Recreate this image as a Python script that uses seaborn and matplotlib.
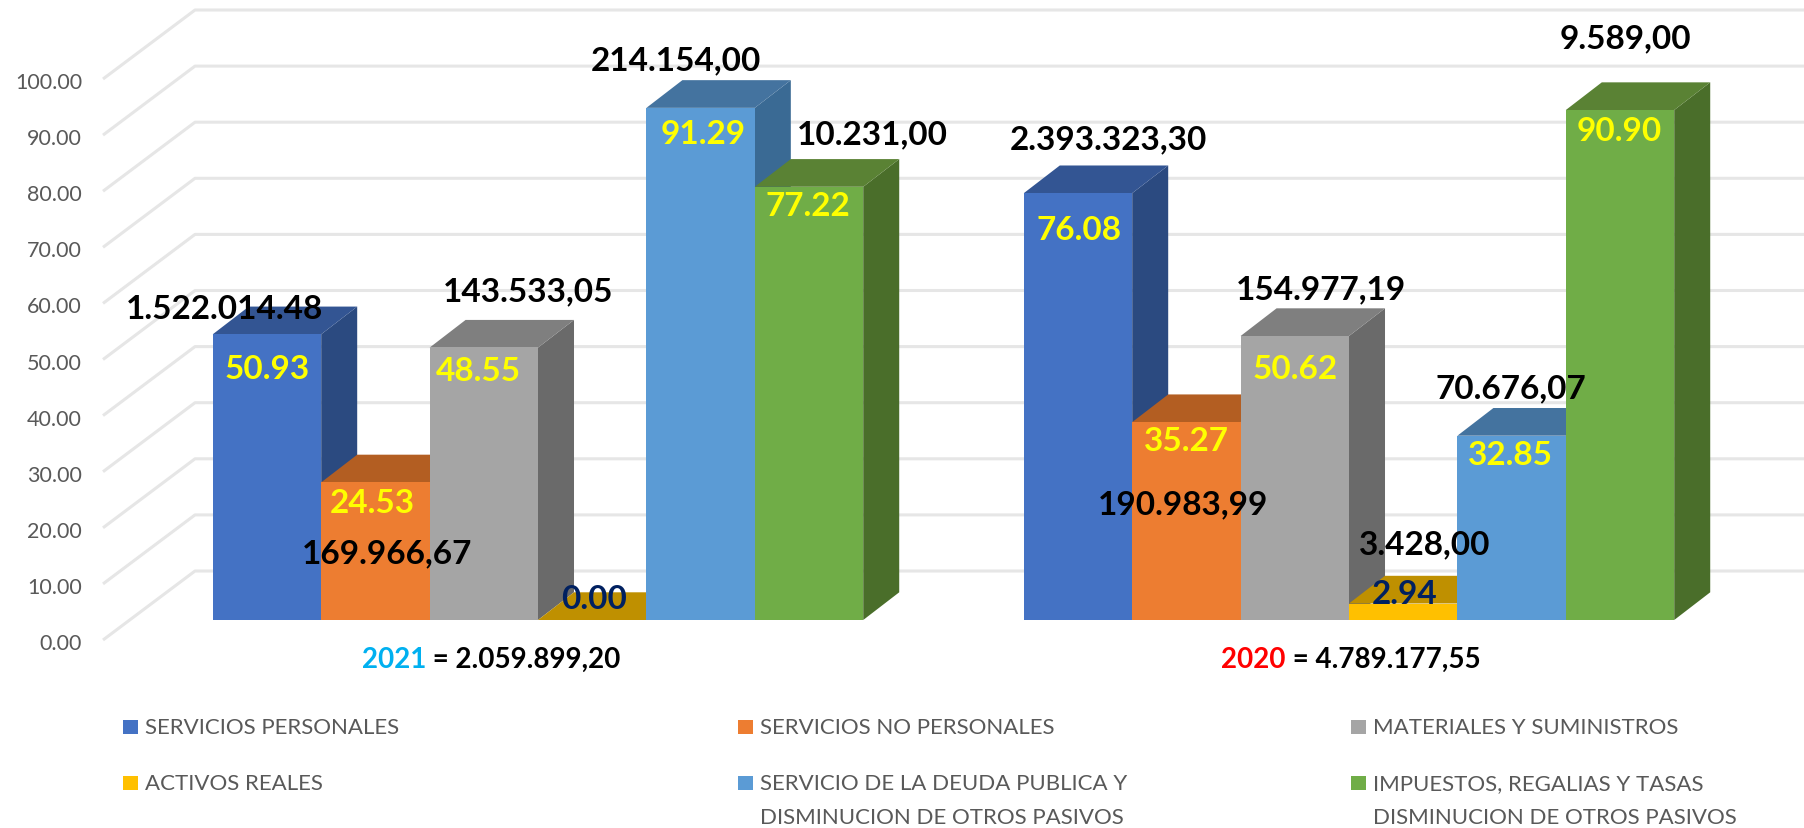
import pandas as pd
import seaborn as sns
import matplotlib.pyplot as plt
from matplotlib.patches import Polygon, Rectangle
from matplotlib.transforms import Affine2D, ScaledTranslation

# Data
categories = ["SERVICIOS PERSONALES", "SERVICIOS NO PERSONALES", "MATERIALES Y SUMINISTROS",
              "ACTIVOS REALES", "SERVICIO DE LA DEUDA PUBLICA Y\nDISMINUCION DE OTROS PASIVOS",
              "IMPUESTOS, REGALIAS Y TASAS\nDISMINUCION DE OTROS PASIVOS"]
years = ["2021", "2020"]
year_totals = ["2.059.899,20", "4.789.177,55"]
year_colors = ["#00B0F0", "#FF0000"]
pct_2021 = [50.93, 24.53, 48.55, 0.00, 91.29, 77.22]
pct_2020 = [76.08, 35.27, 50.62, 2.94, 32.85, 90.90]
amounts_2021 = ["1.522.014.48", "169.966,67", "143.533,05", "", "214.154,00", "10.231,00"]
amounts_2020 = ["2.393.323,30", "190.983,99", "154.977,19", "3.428,00", "70.676,07", "9.589,00"]
yticks = [0, 10, 20, 30, 40, 50, 60, 70, 80, 90, 100]

# Colours of the three visible faces of each bar
front_colors = ["#4472C4", "#ED7D31", "#A5A5A5", "#FFC000", "#5B9BD5", "#70AD47"]
side_colors = ["#2B4A80", "#A35620", "#6A6A6A", "#A67C00", "#3A6A94", "#4A6E2A"]
top_colors = ["#335593", "#B35E22", "#7F7F7F", "#BF9000", "#44739F", "#5A8234"]

# Layout, in pixels of the 1804x828 picture
W, H = 1804, 828
PX_PER_GROUP = 811
PX_PER_UNIT = 5.61
X0_PX, Y0_PX = 538, 620
DEPTH_X, DEPTH_Y = 36 / PX_PER_GROUP, 27.7 / PX_PER_UNIT

pct_pos_2021 = [(267, 369), (372, 503), (478, 371), (594, 599), (703, 134), (808, 206)]
pct_pos_2020 = [(1079, 230), (1186, 441), (1295, 369), (1405, 594), (1510, 455), (1619, 131)]
amount_pos_2021 = [(224, 309), (387, 554), (528, 292), None, (676, 61), (872, 135)]
amount_pos_2020 = [(1108, 140), (1183, 505), (1321, 290), (1425, 545), (1511, 389), (1625, 39)]
total_pos = [(362, 660), (1221, 660)]
legend_pos = [(123, 728), (738, 728), (1351, 728), (123, 784), (738, 784), (1351, 784)]

sns.set_theme(style="white")
plt.rcParams["font.family"] = ["Lato", "DejaVu Sans"]

df = pd.DataFrame({
    "year": [y for y in years for _ in categories],
    "cat": categories * 2,
    "pct": pct_2021 + pct_2020,
})

fig = plt.figure(figsize=((W + 0.01) / 100, (H + 0.01) / 100), dpi=100)
ax = fig.add_axes([0, 0, 1, 1])
sns.barplot(data=df, x="year", y="pct", hue="cat", order=years, hue_order=categories,
            palette=front_colors, width=0.802, gap=0, saturation=1, legend=False,
            errorbar=None, ax=ax)

ax.set_xlim(-X0_PX / PX_PER_GROUP, (W - X0_PX) / PX_PER_GROUP)
ax.set_ylim((Y0_PX - H) / PX_PER_UNIT, Y0_PX / PX_PER_UNIT)
ax.set_xlabel("")
ax.set_ylabel("")
ax.set_xticks([])
sns.despine(ax=ax, left=True, bottom=True)

# pixel coordinates for the free standing texts
px = Affine2D().scale(1 / W, -1 / H).translate(0, 1) + fig.transFigure

# Back wall grid and the left side diagonals
x_back = (195 - X0_PX) / PX_PER_GROUP
x_front = (103 - X0_PX) / PX_PER_GROUP
y_back0 = (Y0_PX - 571) / PX_PER_UNIT
y_front0 = (Y0_PX - 640) / PX_PER_UNIT
for t in yticks:
    ax.plot([x_front, x_back, ax.get_xlim()[1]], [y_front0 + t, y_back0 + t, y_back0 + t],
            color="#E6E6E6", lw=2.2, zorder=1, solid_capstyle="butt")

# y tick labels sit at the front edge of the side wall
ax.set_yticks(yticks)
ax.set_yticklabels([f"{t:.2f}" for t in yticks])
ax.tick_params(axis="y", length=0, direction="in", pad=-59, labelsize=15.5, labelcolor="#595959")
shift = ScaledTranslation(0, -22 / 100, fig.dpi_scale_trans)
for lab in ax.get_yticklabels():
    lab.set_horizontalalignment("right")
    lab.set_transform(lab.get_transform() + shift)

# Side and top faces built from the bars seaborn drew
for i, cont in enumerate(ax.containers):
    for bar in cont:
        x = bar.get_x()
        w = bar.get_width()
        h = bar.get_height()
        bar.set_linewidth(0)
        bar.set_zorder(5 + 3 * i)
        side = [(x + w, 0), (x + w + DEPTH_X, DEPTH_Y), (x + w + DEPTH_X, h + DEPTH_Y), (x + w, h)]
        top = [(x, h), (x + DEPTH_X, h + DEPTH_Y), (x + w + DEPTH_X, h + DEPTH_Y), (x + w, h)]
        ax.add_patch(Polygon(side, closed=True, fc=side_colors[i], lw=0, zorder=3 + 3 * i))
        ax.add_patch(Polygon(top, closed=True, fc=top_colors[i], lw=0, zorder=4 + 3 * i))

# Percentage labels
for vals, pos in [(pct_2021, pct_pos_2021), (pct_2020, pct_pos_2020)]:
    for i, (v, p) in enumerate(zip(vals, pos)):
        color = "#002060" if i == 3 else "#FFFF00"
        ax.text(p[0], p[1], f"{v:.2f}", transform=px, ha="center", va="center", color=color,
                fontsize=24, fontweight="bold", zorder=40)

# Amount labels
for vals, pos in [(amounts_2021, amount_pos_2021), (amounts_2020, amount_pos_2020)]:
    for a, p in zip(vals, pos):
        if p is not None:
            ax.text(p[0], p[1], a, transform=px, ha="center", va="center", color="black",
                    fontsize=24, fontweight="bold", zorder=40)

# Group captions, year in colour
for y, total, color, p in zip(years, year_totals, year_colors, total_pos):
    t = ax.text(p[0], p[1], y, transform=px, ha="left", va="center", color=color,
                fontsize=20, fontweight="bold", zorder=40)
    ax.annotate(f" = {total}", xy=(1, 0.5), xycoords=t, ha="left", va="center",
                color="black", fontsize=20, fontweight="bold", zorder=40)

# Legend
for name, color, p in zip(categories, front_colors, legend_pos):
    ax.add_patch(Rectangle((p[0], p[1] - 8), 14.5, 14.5, transform=px, fc=color, lw=0, zorder=40))
    ax.text(p[0] + 22, p[1] - 10, name, transform=px, ha="left", va="top", color="#595959",
            fontsize=16, linespacing=1.89, zorder=40)

fig.savefig("out.png", dpi=100)
